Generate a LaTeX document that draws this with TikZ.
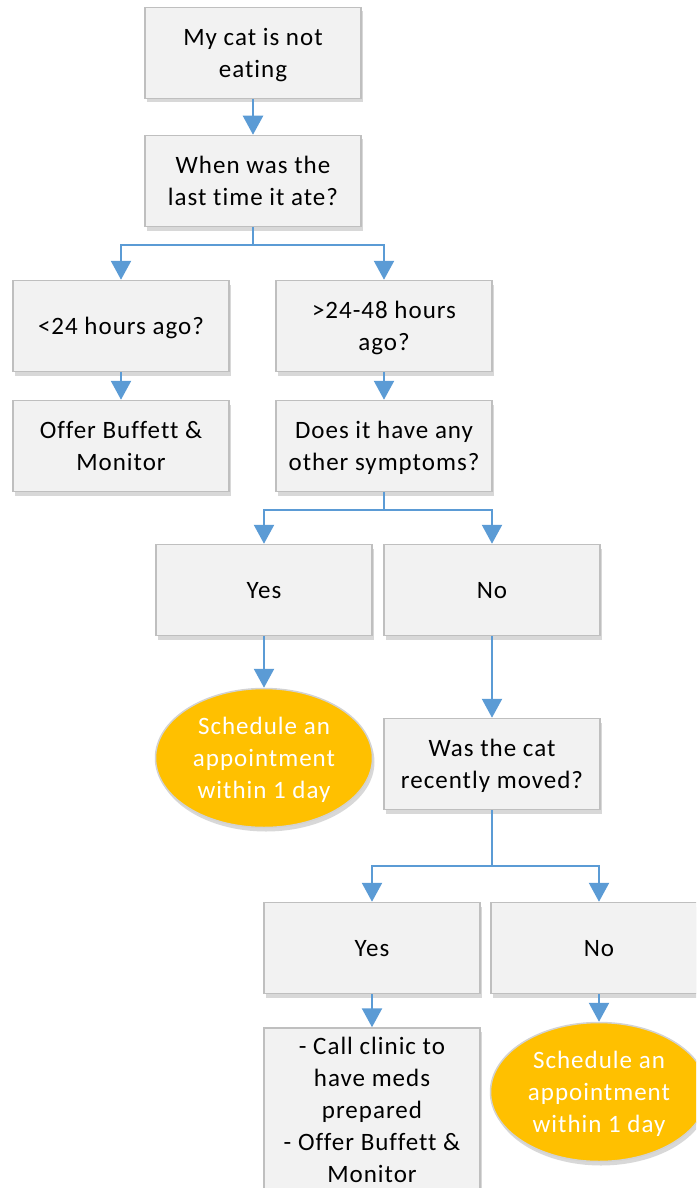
\documentclass[tikz,border=0pt]{standalone}
\usepackage{fontspec}
\setmainfont[LetterSpace=4, Ligatures={NoCommon}]{Carlito}
\usetikzlibrary{shapes.geometric, arrows.meta, positioning, shadows}
\definecolor{boxfill}{HTML}{F2F2F2}
\definecolor{boxline}{HTML}{BFBFBF}
\definecolor{flowblue}{HTML}{5B9BD5}
\definecolor{apptgold}{HTML}{FFC000}
\tikzstyle{process} = [rectangle, minimum width=216pt, minimum height=91pt, align=center, text depth=0pt, draw=boxline, line width=1.5pt, fill=boxfill, drop shadow={shadow xshift=2pt, shadow yshift=-4pt, fill=black!30, opacity=0.5}]
\tikzstyle{appt} = [ellipse, minimum width=217pt, minimum height=139pt, inner sep=0pt, align=center, text depth=0pt, draw=boxline!70, line width=1.5pt, fill=apptgold, text=white, drop shadow={shadow xshift=2pt, shadow yshift=-4pt, fill=black!30, opacity=0.5}]
\tikzstyle{arrow} = [draw=flowblue, line width=2.4pt, -{Triangle[width=20pt,length=19pt]}]

\begin{document}
\begin{tikzpicture}[node distance=128pt, font=\fontsize{25pt}{32pt}\selectfont]

\useasboundingbox (0,0) rectangle (696pt,-1188pt);
\clip (0,0) rectangle (696pt,-1188pt);

% Start Node
\node (start) [process] at (253pt,-53pt) {My cat is not\\eating};
\node (when) [process, below of=start] {When was the\\last time it ate?};

% First split
\node (lt24) [process, below of=when, xshift=-132pt, yshift=-17pt] {<24 hours ago?};
\node (gt24) [process, below of=when, xshift=131pt, yshift=-17pt] {>24-48 hours\\ago?};
\node (offer) [process, below of=lt24, yshift=8pt] {Offer Buffett \&\\Monitor};
\node (symptoms) [process, below of=gt24, yshift=8pt] {Does it have any\\other symptoms?};

% Symptoms split
\node (yes1) [process, below of=symptoms, xshift=-120pt, yshift=-16pt] {Yes};
\node (no1) [process, below of=symptoms, xshift=108pt, yshift=-16pt] {No};
\node (appt1) [appt, below of=yes1, yshift=-40pt] {Schedule an\\appointment\\within 1 day};
\node (moved) [process, below of=no1, yshift=-46pt] {Was the cat\\recently moved?};

% Moved split
\node (yes2) [process, below of=moved, xshift=-120pt, yshift=-56pt] {Yes};
\node (no2) [process, below of=moved, xshift=107pt, yshift=-56pt] {No};
\node (meds) [process, below of=yes2, yshift=-34pt, minimum height=164pt] {- Call clinic to\\have meds\\prepared\\- Offer Buffett \&\\Monitor};
\node (appt2) [appt, below of=no2, yshift=-16pt] {Schedule an\\appointment\\within 1 day};

% Arrows
\draw [arrow] (start) -- (when);
\draw [arrow] (when.south) -- ++(0,-18pt) -| (lt24.north);
\draw [arrow] (when.south) -- ++(0,-18pt) -| (gt24.north);
\draw [arrow] (lt24) -- (offer);
\draw [arrow] (gt24) -- (symptoms);
\draw [arrow] (symptoms.south) -- ++(0,-18pt) -| (yes1.north);
\draw [arrow] (symptoms.south) -- ++(0,-18pt) -| (no1.north);
\draw [arrow] (yes1) -- (appt1);
\draw [arrow] (no1) -- (moved);
\draw [arrow] (moved.south) -- ++(0,-56pt) -| (yes2.north);
\draw [arrow] (moved.south) -- ++(0,-56pt) -| (no2.north);
\draw [arrow] (yes2) -- (meds);
\draw [arrow] (no2) -- (appt2);

\end{tikzpicture}
\end{document}
